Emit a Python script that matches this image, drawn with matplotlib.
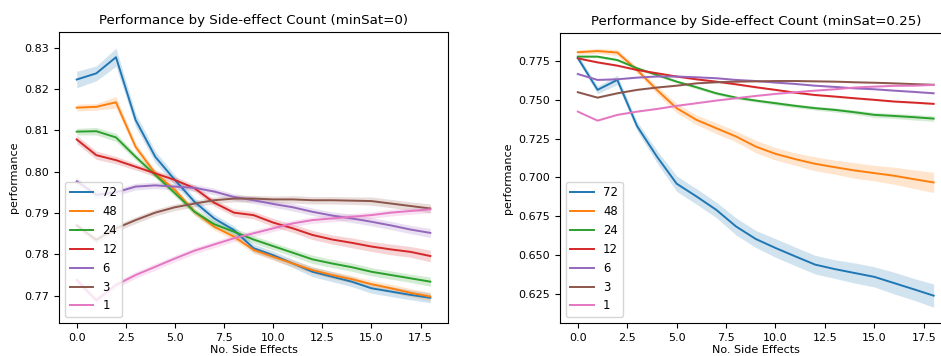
#!/usr/bin/env python3
import matplotlib

matplotlib.use("Agg")
import matplotlib.pyplot as plt

side_effects = list(range(19))
series_labels = ["72", "48", "24", "12", "6", "3", "1"]

# minSat = 0
left_72 = [0.8223, 0.8238, 0.8277, 0.8125, 0.8036, 0.7980, 0.7927, 0.7887, 0.7859, 0.7815,
           0.7798, 0.7778, 0.7758, 0.7746, 0.7734, 0.7718, 0.7710, 0.7702, 0.7695]
left_48 = [0.8155, 0.8157, 0.8168, 0.8060, 0.7996, 0.7956, 0.7903, 0.7867, 0.7843, 0.7811,
           0.7794, 0.7778, 0.7762, 0.7750, 0.7740, 0.7728, 0.7718, 0.7707, 0.7698]
left_24 = [0.8097, 0.8098, 0.8083, 0.8036, 0.7992, 0.7948, 0.7903, 0.7873, 0.7855, 0.7836,
           0.7820, 0.7804, 0.7788, 0.7778, 0.7769, 0.7758, 0.7750, 0.7742, 0.7734]
left_12 = [0.8078, 0.8040, 0.8028, 0.8012, 0.7996, 0.7980, 0.7960, 0.7925, 0.7901, 0.7895,
           0.7877, 0.7863, 0.7847, 0.7836, 0.7828, 0.7819, 0.7812, 0.7806, 0.7796]
left_6 = [0.7977, 0.7944, 0.7950, 0.7964, 0.7967, 0.7964, 0.7961, 0.7952, 0.7939, 0.7931,
          0.7922, 0.7914, 0.7903, 0.7894, 0.7887, 0.7879, 0.7870, 0.7860, 0.7852]
left_3 = [0.7870, 0.7835, 0.7863, 0.7883, 0.7901, 0.7914, 0.7923, 0.7931, 0.7935, 0.7935,
          0.7933, 0.7933, 0.7931, 0.7931, 0.7930, 0.7929, 0.7923, 0.7917, 0.7911]
left_1 = [0.7738, 0.7689, 0.7726, 0.7750, 0.7770, 0.7790, 0.7809, 0.7824, 0.7839, 0.7851,
          0.7863, 0.7875, 0.7883, 0.7887, 0.7891, 0.7895, 0.7901, 0.7905, 0.7909]

# half-widths of the shaded bands, minSat = 0
left_72_ci = [0.0020, 0.0018, 0.0022, 0.0016, 0.0014, 0.0012, 0.0010, 0.0010, 0.0010, 0.0010,
              0.0010, 0.0010, 0.0012, 0.0012, 0.0012, 0.0012, 0.0012, 0.0012, 0.0012]
left_48_ci = [0.0008, 0.0008, 0.0014, 0.0010, 0.0008, 0.0008, 0.0008, 0.0008, 0.0008, 0.0008,
              0.0008, 0.0008, 0.0008, 0.0009, 0.0009, 0.0009, 0.0010, 0.0010, 0.0010]
left_24_ci = [0.0008, 0.0009, 0.0010, 0.0008, 0.0008, 0.0008, 0.0008, 0.0009, 0.0009, 0.0009,
              0.0009, 0.0009, 0.0010, 0.0010, 0.0010, 0.0010, 0.0010, 0.0010, 0.0011]
left_12_ci = [0.0010, 0.0010, 0.0009, 0.0008, 0.0008, 0.0008, 0.0008, 0.0008, 0.0009, 0.0009,
              0.0010, 0.0010, 0.0011, 0.0011, 0.0012, 0.0012, 0.0013, 0.0013, 0.0014]
left_6_ci = [0.0008, 0.0008, 0.0008, 0.0008, 0.0008, 0.0008, 0.0008, 0.0008, 0.0008, 0.0008,
             0.0008, 0.0009, 0.0009, 0.0009, 0.0010, 0.0010, 0.0010, 0.0010, 0.0011]
left_3_ci = [0.0008, 0.0008, 0.0008, 0.0008, 0.0008, 0.0008, 0.0008, 0.0008, 0.0008, 0.0008,
             0.0008, 0.0009, 0.0009, 0.0009, 0.0009, 0.0010, 0.0010, 0.0010, 0.0011]
left_1_ci = [0.0008, 0.0008, 0.0008, 0.0008, 0.0008, 0.0008, 0.0008, 0.0008, 0.0008, 0.0008,
             0.0008, 0.0008, 0.0008, 0.0008, 0.0008, 0.0008, 0.0008, 0.0008, 0.0008]

# minSat = 0.25
right_72 = [0.7770, 0.7564, 0.7628, 0.7330, 0.7135, 0.6960, 0.6878, 0.6792, 0.6685, 0.6604,
            0.6546, 0.6492, 0.6439, 0.6410, 0.6385, 0.6360, 0.6320, 0.6280, 0.6239]
right_48 = [0.7806, 0.7814, 0.7804, 0.7692, 0.7564, 0.7446, 0.7371, 0.7317, 0.7264, 0.7199,
            0.7152, 0.7118, 0.7088, 0.7066, 0.7045, 0.7028, 0.7011, 0.6989, 0.6968]
right_24 = [0.7778, 0.7778, 0.7756, 0.7703, 0.7660, 0.7617, 0.7581, 0.7542, 0.7514, 0.7495,
            0.7478, 0.7461, 0.7446, 0.7435, 0.7420, 0.7403, 0.7396, 0.7388, 0.7379]
right_12 = [0.7767, 0.7741, 0.7720, 0.7692, 0.7671, 0.7650, 0.7632, 0.7617, 0.7600, 0.7581,
            0.7564, 0.7546, 0.7531, 0.7521, 0.7510, 0.7500, 0.7489, 0.7482, 0.7474]
right_6 = [0.7666, 0.7628, 0.7632, 0.7643, 0.7650, 0.7650, 0.7645, 0.7639, 0.7628, 0.7621,
           0.7611, 0.7602, 0.7591, 0.7583, 0.7574, 0.7568, 0.7559, 0.7551, 0.7542]
right_3 = [0.7549, 0.7514, 0.7542, 0.7564, 0.7579, 0.7591, 0.7606, 0.7613, 0.7617, 0.7619,
           0.7621, 0.7621, 0.7619, 0.7617, 0.7613, 0.7610, 0.7606, 0.7601, 0.7597]
right_1 = [0.7424, 0.7366, 0.7403, 0.7424, 0.7441, 0.7461, 0.7478, 0.7495, 0.7510, 0.7525,
           0.7538, 0.7549, 0.7559, 0.7568, 0.7579, 0.7585, 0.7590, 0.7591, 0.7596]

right_72_ci = [0.0020, 0.0025, 0.0030, 0.0030, 0.0040, 0.0050, 0.0050, 0.0050, 0.0055, 0.0055,
               0.0060, 0.0060, 0.0060, 0.0060, 0.0065, 0.0065, 0.0070, 0.0070, 0.0075]
right_48_ci = [0.0015, 0.0015, 0.0020, 0.0020, 0.0025, 0.0030, 0.0030, 0.0035, 0.0035, 0.0040,
               0.0040, 0.0040, 0.0045, 0.0045, 0.0050, 0.0050, 0.0055, 0.0060, 0.0065]
right_24_ci = [0.0008, 0.0008, 0.0008, 0.0008, 0.0008, 0.0008, 0.0010, 0.0010, 0.0010, 0.0010,
               0.0012, 0.0012, 0.0012, 0.0014, 0.0014, 0.0016, 0.0016, 0.0018, 0.0018]
right_12_ci = [0.0006, 0.0006, 0.0006, 0.0006, 0.0006, 0.0006, 0.0006, 0.0006, 0.0006, 0.0006,
               0.0006, 0.0006, 0.0006, 0.0006, 0.0006, 0.0006, 0.0006, 0.0006, 0.0006]
right_6_ci = [0.0005, 0.0005, 0.0005, 0.0005, 0.0005, 0.0005, 0.0005, 0.0005, 0.0005, 0.0005,
              0.0005, 0.0005, 0.0005, 0.0005, 0.0005, 0.0005, 0.0005, 0.0005, 0.0005]
right_3_ci = [0.0005, 0.0005, 0.0005, 0.0005, 0.0005, 0.0005, 0.0005, 0.0005, 0.0005, 0.0005,
              0.0005, 0.0005, 0.0005, 0.0005, 0.0005, 0.0005, 0.0005, 0.0005, 0.0005]
right_1_ci = [0.0005, 0.0005, 0.0005, 0.0005, 0.0005, 0.0005, 0.0005, 0.0005, 0.0005, 0.0005,
              0.0005, 0.0005, 0.0005, 0.0005, 0.0005, 0.0005, 0.0005, 0.0005, 0.0005]

COLORS = ["#1f77b4", "#ff7f0e", "#2ca02c", "#d62728", "#9467bd", "#8c564b", "#e377c2"]


def draw_panel(ax, series, bands, title):
    for label, values, ci, color in zip(series_labels, series, bands, COLORS):
        lower = [v - c for v, c in zip(values, ci)]
        upper = [v + c for v, c in zip(values, ci)]
        ax.fill_between(side_effects, lower, upper, color=color, alpha=0.2, linewidth=0)
        ax.plot(side_effects, values, color=color, linewidth=1.4, label=label)
    ax.set_title(title, fontsize=9.6)
    ax.set_xlabel("No. Side Effects", fontsize=8, labelpad=2)
    ax.set_ylabel("performance", fontsize=8)
    ax.tick_params(labelsize=8)
    ax.legend(loc="lower left", fontsize=8.4)


def main() -> None:
    fig = plt.figure(figsize=(9.41, 3.56), dpi=100)
    ax_left = fig.add_axes([0.0627, 0.0927, 0.4134, 0.8174])
    ax_right = fig.add_axes([0.5951, 0.0927, 0.4160, 0.8146])

    draw_panel(
        ax_left,
        [left_72, left_48, left_24, left_12, left_6, left_3, left_1],
        [left_72_ci, left_48_ci, left_24_ci, left_12_ci, left_6_ci, left_3_ci, left_1_ci],
        "Performance by Side-effect Count (minSat=0)",
    )
    draw_panel(
        ax_right,
        [right_72, right_48, right_24, right_12, right_6, right_3, right_1],
        [right_72_ci, right_48_ci, right_24_ci, right_12_ci, right_6_ci, right_3_ci, right_1_ci],
        "Performance by Side-effect Count (minSat=0.25)",
    )

    ax_left.set_ylim(0.7634, 0.8338)
    ax_right.set_ylim(0.6063, 0.793)

    fig.savefig("out.png", dpi=100)
    plt.close(fig)


if __name__ == "__main__":
    main()
